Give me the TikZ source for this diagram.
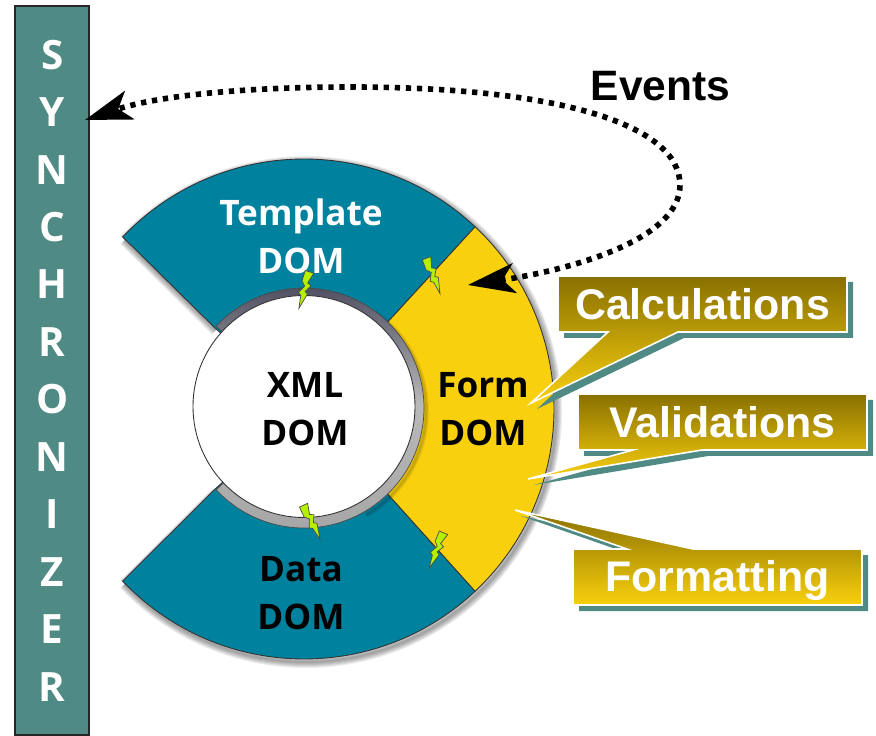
\documentclass[tikz,border=0pt]{standalone}
\usepackage{fontspec}
\setmainfont{Liberation Sans}
\newfontfamily\domfont{Open Sans}
\usetikzlibrary{
	arrows.meta,
	positioning
	}
\definecolor{domteal}{HTML}{00829E}
\definecolor{formyellow}{HTML}{F9D00E}
\definecolor{syncgreen}{HTML}{4F8A84}
\definecolor{boxdark}{HTML}{887000}
\definecolor{boltgreen}{HTML}{B4F000}
\definecolor{ringdark}{HTML}{45455A}
\tikzset{
	domlabel/.style={font={\domfont\bfseries\fontsize{20pt}{27.3}\selectfont}, align=center},
	boxlabel/.style={font={\bfseries\fontsize{24.4pt}{28}\selectfont}, text=white},
	sector/.style={draw=black!80, line width=0.5pt},
	callout/.style={draw=white, line width=0.9pt, top color=boxdark, bottom color=formyellow},
	calloutshadow/.style={fill=syncgreen, shift={(6,6)}},
	bolt/.style={draw=black!70, fill=boltgreen, line width=0.4pt},
	softedge/.style={draw=black, opacity=0.07, shift={(2,3)}}
}
\begin{document}
\begin{tikzpicture}[x=0.02cm, y=-0.02cm]
	\useasboundingbox (0,0) rectangle (876,736);
	% soft edge under the ring
	\foreach \w in {2,4,6,8,10,12} {
		\draw[softedge, line width=\w*0.569pt] (304,409) ++(-136.5:250) arc[start angle=-136.5, end angle=136.5, radius=250];
		\draw[softedge, line width=\w*0.569pt] (304,409) ++(-136.5:250) -- (214,327);
		\draw[softedge, line width=\w*0.569pt] (304,409) ++(136.5:250) -- (214,490);
	}
	% the three sectors
	\draw[sector, fill=domteal] (304,409) ++(-136.5:250) arc[start angle=-136.5, end angle=-46.8, radius=250] -- (385,325) -- (304,409) -- (214,327) -- cycle;
	\draw[sector, fill=domteal] (304,409) ++(136.5:250) arc[start angle=136.5, end angle=46.8, radius=250] -- (385,491) -- (304,409) -- (214,490) -- cycle;
	\draw[sector, fill=formyellow] (304,409) ++(-46.8:250) arc[start angle=-46.8, end angle=46.8, radius=250] -- (385,491) -- (304,409) -- (385,325) -- cycle;
	% inner ring and circle
	\foreach \w in {2,4,6} {
		\draw[softedge, line width=\w*0.569pt] (304,408) ++(-55:120) arc[start angle=-55, end angle=60, radius=120];
	}
	\draw[draw=black!70, line width=0.4pt, top color=ringdark, bottom color=gray!70, middle color=gray!55] (304,408) ++(-137:120) arc[start angle=-137, end angle=137, radius=120] -- (304,408) -- cycle;
	\node (xml) [circle, draw=black!80, line width=0.5pt, fill=white, minimum size=111*2*0.02cm, inner sep=0pt] at (304,406.5) {};
	% labels
	\node (template) [domlabel, text=white] at (301,236) {Template\\DOM};
	\node (xmllabel) [domlabel] at (305,409) {XML\\DOM};
	\node (form) [domlabel] at (483,409) {Form\\DOM};
	\node (data) [domlabel] at (301,593) {Data\\DOM};
	% synchronizer bar
	\node (sync) [draw=black!85, line width=1pt, fill=syncgreen, text=white, minimum width=74*0.02cm, minimum height=729*0.02cm, inner sep=0pt, align=center, font={\domfont\bfseries\fontsize{23pt}{32.7}\selectfont}] at (52.3,370.5) {S\\Y\\N\\C\\H\\R\\O\\N\\I\\Z\\E\\R};
	% callouts
	\fill[calloutshadow] (558,276) -- (847,276) -- (847,332) -- (678,332) -- (531,403) -- (608,332) -- (558,332) -- cycle;
	\shade[callout, draw=white] (558,276) -- (847,276) -- (847,332) -- (678,332) -- (531,403) -- (608,332) -- (558,332) -- cycle;
	\fill[calloutshadow] (578,394) -- (867,394) -- (867,450) -- (702,450) -- (528,479) -- (633,450) -- (578,450) -- cycle;
	\shade[callout, draw=white] (578,394) -- (867,394) -- (867,450) -- (702,450) -- (528,479) -- (633,450) -- (578,450) -- cycle;
	\fill[calloutshadow] (573,549) -- (627,549) -- (515,510) -- (693,549) -- (862,549) -- (862,605) -- (573,605) -- cycle;
	\shade[callout, draw=white] (573,549) -- (627,549) -- (515,510) -- (693,549) -- (862,549) -- (862,605) -- (573,605) -- cycle;
	\node (calc) [boxlabel] at (702.5,304) {Calculations};
	\node (valid) [boxlabel] at (722.5,422) {Validations};
	\node (format) [boxlabel] at (717.5,581) {Formatting};
	\node (events) [font={\bfseries\fontsize{24.2pt}{28}\selectfont}] at (660.5,86) {Events};
	% bolts
	\foreach \bx/\by/\ba in {310/272/-17, 427/258/20, 304/505/25, 444/533/-23} {
		\draw[bolt, shift={(\bx,\by)}, rotate=\ba] (-5,0) -- (4,0) -- (1,11) -- (5,13) -- (1,20) -- (4,22) -- (0,38) -- (-2,25) -- (-5,23) -- (-1,15) -- (-5,11) -- cycle;
	}
	% event loop
	\coordinate (formend) at (468,285);
	\coordinate (syncend) at (85,120);
	\draw[{Stealth[length=26.7pt, width=17pt, inset=6.8pt]}-{Stealth[length=26.7pt, width=17pt, inset=6.8pt]}, line width=3.2pt, dash pattern=on 3pt off 3.3pt] (formend) .. controls (570,270) and (680,240) .. (680,185) .. controls (680,125) and (560,87) .. (350,87) .. controls (250,87) and (160,95) .. (syncend);
\end{tikzpicture}
\end{document}
